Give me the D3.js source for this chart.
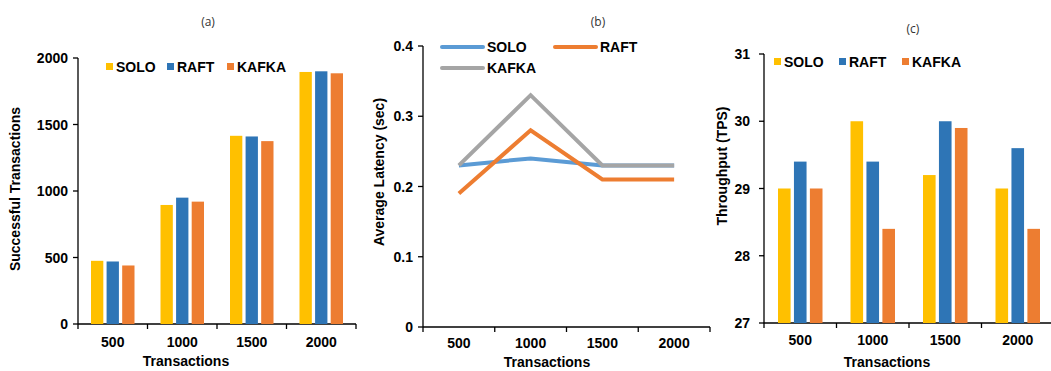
<!DOCTYPE html>
<html>
<head>
<meta charset="utf-8">
<script src="https://cdn.jsdelivr.net/npm/d3@7"></script>
<style>
  body { margin: 0; background: white; }
  svg text { font-family: "Liberation Sans", Arial, sans-serif; }
  .tick-lbl { font-size: 14px; font-weight: bold; fill: #000; }
  .ax-title { font-size: 14px; font-weight: bold; fill: #000; }
  .panel { font-family: "Open Sans", sans-serif !important; font-size: 12px; fill: #333; }
</style>
</head>
<body>
<div id="chart"></div>
<script>
// data
const txCounts = ['500', '1000', '1500', '2000'];
const seriesNames = ['SOLO', 'RAFT', 'KAFKA'];
const successSolo = [475, 895, 1415, 1895];
const successRaft = [470, 950, 1410, 1900];
const successKafka = [440, 920, 1375, 1885];
const latencySolo = [0.23, 0.24, 0.23, 0.23];
const latencyRaft = [0.19, 0.28, 0.21, 0.21];
const latencyKafka = [0.23, 0.33, 0.23, 0.23];
const tpsSolo = [29.0, 30.0, 29.2, 29.0];
const tpsRaft = [29.4, 29.4, 30.0, 29.6];
const tpsKafka = [29.0, 28.4, 29.9, 28.4];
const successTicks = [0, 500, 1000, 1500, 2000];
const latencyTicks = [0, 0.1, 0.2, 0.3, 0.4];
const tpsTicks = [27, 28, 29, 30, 31];

const barColors = { SOLO: '#FFC000', RAFT: '#2E75B6', KAFKA: '#ED7D31' };
const lineColors = { SOLO: '#5B9BD5', RAFT: '#ED7D31', KAFKA: '#A5A5A5' };

const svg = d3.select('#chart').append('svg')
  .attr('width', 1051).attr('height', 371)
  .style('background', 'white');

function drawAxes(x0, x1, y, ticks, opt) {
  const g = svg.append('g');
  // y axis line + ticks
  g.append('line').attr('x1', x0).attr('x2', x0)
    .attr('y1', y(ticks[ticks.length - 1])).attr('y2', y(ticks[0]) + 5)
    .attr('stroke', '#000').attr('stroke-width', 1.3);
  g.selectAll('.yt').data(ticks).enter().append('line')
    .attr('x1', x0 - 5).attr('x2', x0)
    .attr('y1', d => y(d)).attr('y2', d => y(d))
    .attr('stroke', '#000').attr('stroke-width', 1.3);
  g.selectAll('.yl').data(ticks).enter().append('text')
    .attr('class', 'tick-lbl')
    .attr('x', x0 - opt.tickPad).attr('y', d => y(d) + 5)
    .attr('text-anchor', 'end')
    .text(d => d);
  // x axis line
  g.append('line').attr('x1', x0).attr('x2', x1)
    .attr('y1', y(ticks[0])).attr('y2', y(ticks[0]))
    .attr('stroke', '#000').attr('stroke-width', 1.3);
  return g;
}

function xTicks(g, band, yBase, labelY) {
  const edges = band.domain().map(d => band(d)).concat([band.range()[1]]);
  g.selectAll('.xt').data(edges.slice(1)).enter().append('line')
    .attr('x1', d => d).attr('x2', d => d)
    .attr('y1', yBase).attr('y2', yBase + 5)
    .attr('stroke', '#000').attr('stroke-width', 1.3);
  g.selectAll('.xl').data(band.domain()).enter().append('text')
    .attr('class', 'tick-lbl')
    .attr('x', d => band(d) + band.bandwidth() / 2).attr('y', labelY)
    .attr('text-anchor', 'middle')
    .text(d => d);
}

function titles(opt) {
  svg.append('text').attr('class', 'ax-title')
    .attr('x', opt.xTitleX).attr('y', opt.xTitleY)
    .attr('text-anchor', 'middle').text('Transactions');
  svg.append('text').attr('class', 'ax-title')
    .attr('transform', 'translate(' + opt.yTitleX + ',' + opt.yTitleY + ') rotate(-90)')
    .attr('text-anchor', 'middle').text(opt.yTitle);
  svg.append('text').attr('class', 'panel')
    .attr('x', opt.panelX).attr('y', opt.panelY)
    .attr('text-anchor', 'middle').text(opt.panel);
}

function barChart(opt) {
  const y = d3.scaleLinear().domain(opt.domain).range([opt.yBottom, opt.yTop]);
  const x0 = d3.scaleBand().domain(txCounts).range([opt.left, opt.right]);
  const bw = x0.bandwidth();
  const x1 = d3.scaleBand().domain(seriesNames)
    .range([opt.inset, bw - opt.inset]).paddingInner(0.21);

  const g = drawAxes(opt.left, opt.right, y, opt.ticks, opt);
  xTicks(g, x0, opt.yBottom, opt.xLabelY);

  const rows = txCounts.map((t, i) => ({ t, vals: seriesNames.map((s, k) => ({ s, v: opt.values[k][i] })) }));
  const groups = svg.append('g').selectAll('g').data(rows).enter().append('g')
    .attr('transform', d => 'translate(' + x0(d.t) + ',0)');
  groups.selectAll('rect').data(d => d.vals).enter().append('rect')
    .attr('x', d => x1(d.s))
    .attr('width', x1.bandwidth())
    .attr('y', d => y(d.v))
    .attr('height', d => opt.yBottom - y(d.v))
    .attr('fill', d => barColors[d.s]);

  // legend
  const lg = svg.append('g').selectAll('g').data(seriesNames).enter().append('g')
    .attr('transform', (d, i) => 'translate(' + opt.legendX[i] + ',' + opt.legendY + ')');
  lg.append('rect').attr('x', 0).attr('y', -9).attr('width', 7).attr('height', 7)
    .attr('fill', d => barColors[d]);
  lg.append('text').attr('class', 'tick-lbl').attr('x', 10).attr('y', 0).text(d => d);

  titles(opt);
}

// (a)
barChart({
  domain: [0, 2000], ticks: successTicks,
  values: [successSolo, successRaft, successKafka],
  left: 78, right: 356, yTop: 58, yBottom: 324, inset: 13, tickPad: 10,
  xLabelY: 347, xTitleX: 186, xTitleY: 366,
  yTitle: 'Successful Transactions', yTitleX: 20, yTitleY: 189,
  panel: '(a)', panelX: 208, panelY: 26,
  legendX: [106, 167, 227], legendY: 72
});

// (c)
barChart({
  domain: [27, 31], ticks: tpsTicks,
  values: [tpsSolo, tpsRaft, tpsKafka],
  left: 764, right: 1054, yTop: 54, yBottom: 323, inset: 14, tickPad: 14,
  xLabelY: 345, xTitleX: 887, xTitleY: 367,
  yTitle: 'Throughput (TPS)', yTitleX: 727, yTitleY: 166,
  panel: '(c)', panelX: 913, panelY: 33,
  legendX: [774, 839, 902], legendY: 67
});

// (b) line chart
(function () {
  const left = 423, right = 710, yTop = 46, yBottom = 327;
  const y = d3.scaleLinear().domain([0, 0.4]).range([yBottom, yTop]);
  const xb = d3.scaleBand().domain(txCounts).range([left, right]);
  const xp = d3.scalePoint().domain(txCounts).range([left, right]).padding(0.5);

  const g = drawAxes(left, right, y, latencyTicks, { tickPad: 10 });
  xTicks(g, xb, yBottom, 348);

  const lineGen = d3.line().x((d, i) => xp(txCounts[i])).y(d => y(d));
  const series = [
    { s: 'SOLO', v: latencySolo },
    { s: 'RAFT', v: latencyRaft },
    { s: 'KAFKA', v: latencyKafka }
  ];
  svg.append('g').selectAll('path').data(series).enter().append('path')
    .attr('d', d => lineGen(d.v))
    .attr('fill', 'none')
    .attr('stroke', d => lineColors[d.s])
    .attr('stroke-width', 4)
    .attr('stroke-linejoin', 'miter');

  const legendPos = [[442, 47], [555, 47], [442, 68]];
  const lg = svg.append('g').selectAll('g').data(seriesNames).enter().append('g')
    .attr('transform', (d, i) => 'translate(' + legendPos[i][0] + ',' + legendPos[i][1] + ')');
  lg.append('line').attr('x1', 0).attr('x2', 41).attr('y1', 0).attr('y2', 0)
    .attr('stroke', d => lineColors[d]).attr('stroke-width', 4)
    .attr('stroke-linecap', 'round');
  lg.append('text').attr('class', 'tick-lbl').attr('x', 45).attr('y', 5).text(d => d);

  titles({
    xTitleX: 547, xTitleY: 367,
    yTitle: 'Average Latency (sec)', yTitleX: 384, yTitleY: 172,
    panel: '(b)', panelX: 598, panelY: 26
  });
})();
</script>
</body>
</html>
